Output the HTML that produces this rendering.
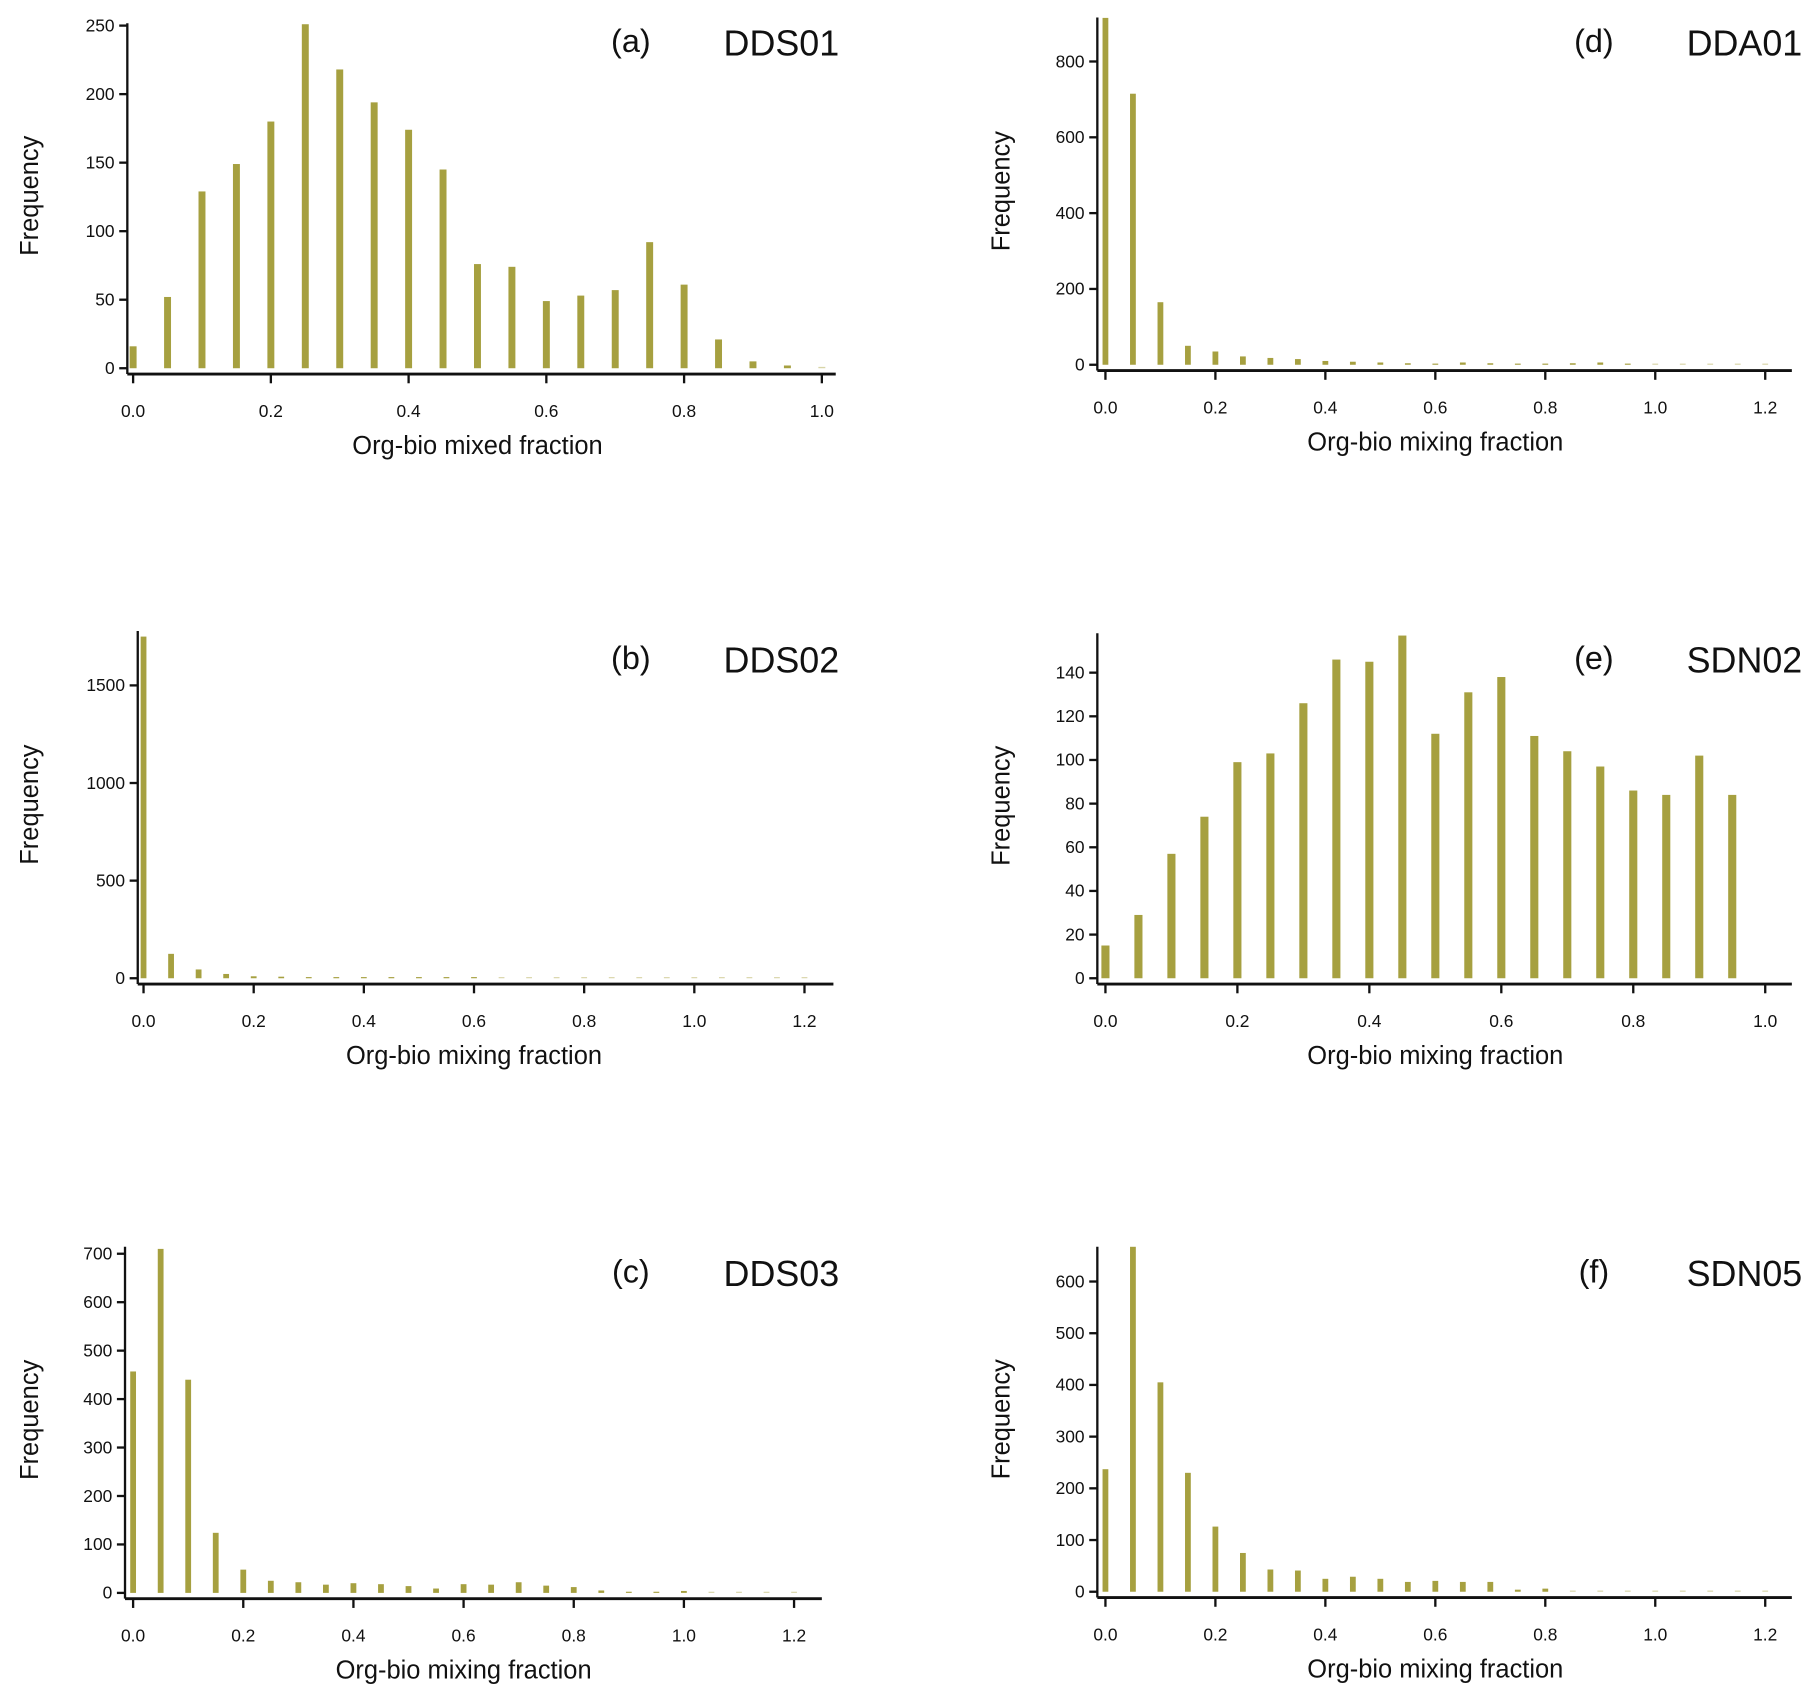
<!DOCTYPE html>
<html><head><meta charset="utf-8"><style>
html,body{margin:0;padding:0;background:#fff}
svg{display:block}
text{font-family:"Liberation Sans",sans-serif;fill:#111}
</style></head><body>
<svg id="fig" width="1815" height="1703" viewBox="0 0 1568 1471" xmlns="http://www.w3.org/2000/svg"></svg>
<script>
const binStep = 0.05;
const dataA = [16,52,129,149,180,251,218,194,174,145,76,74,49,53,57,92,61,21,5,2,1];
const dataB = [1750,125,45,22,10,8,5,4,3,2,3,2,2,1,1,1,1,1,1,1,1,1,1,1,1];
const dataC = [457,710,440,124,48,25,22,17,20,18,14,9,18,17,22,15,12,5,2,2,4,1,1,1,1];
const dataD = [915,715,165,50,35,22,18,15,10,8,6,4,3,6,4,3,3,4,6,2,1,1,1,1,1];
const dataE = [15,29,57,74,99,103,126,146,145,157,112,131,138,111,104,97,86,84,102,84,0];
const dataF = [237,670,405,230,126,75,43,41,25,29,25,19,21,19,19,4,6,1,1,1,1,1,1,1,1];
const yTicksA = [0,50,100,150,200,250];
const yTicksB = [0,500,1000,1500];
const yTicksC = [0,100,200,300,400,500,600,700];
const yTicksD = [0,200,400,600,800];
const yTicksE = [0,20,40,60,80,100,120,140];
const yTicksF = [0,100,200,300,400,500,600];
const xTicks10 = [0,0.2,0.4,0.6,0.8,1.0];
const xTicks12 = [0,0.2,0.4,0.6,0.8,1.0,1.2];

const NS = "http://www.w3.org/2000/svg";
const svg = document.getElementById('fig');
function mk(tag, attrs, parent){
  const e = document.createElementNS(NS, tag);
  for (const k in attrs) e.setAttribute(k, attrs[k]);
  (parent||svg).appendChild(e);
  return e;
}
const panels = [
 {id:'a', name:'DDS01', data:dataA, yt:yTicksA, xt:xTicks10, yax:110, x0:115, xv:1.0, xpx:710, xend:722, y0:318, ytop:20, yv:250, ypx:22, xl:'Org-bio mixed fraction', bw:6, labY:45},
 {id:'b', name:'DDS02', data:dataB, yt:yTicksB, xt:xTicks12, yax:119, x0:124, xv:1.2, xpx:695, xend:720, y0:845, ytop:545, yv:1500, ypx:592, xl:'Org-bio mixing fraction', bw:5, labY:578},
 {id:'c', name:'DDS03', data:dataC, yt:yTicksC, xt:xTicks12, yax:108, x0:115, xv:1.2, xpx:686, xend:710, y0:1376, ytop:1077, yv:700, ypx:1083, xl:'Org-bio mixing fraction', bw:5, labY:1108},
 {id:'d', name:'DDA01', data:dataD, yt:yTicksD, xt:xTicks12, yax:948, x0:955, xv:1.2, xpx:1525, xend:1548, y0:315, ytop:15, yv:800, ypx:53, xl:'Org-bio mixing fraction', bw:5, labY:45},
 {id:'e', name:'SDN02', data:dataE, yt:yTicksE, xt:xTicks10, yax:948, x0:955, xv:1.0, xpx:1525, xend:1548, y0:845, ytop:547, yv:140, ypx:581, xl:'Org-bio mixing fraction', bw:7, labY:578},
 {id:'f', name:'SDN05', data:dataF, yt:yTicksF, xt:xTicks12, yax:948, x0:955, xv:1.2, xpx:1525, xend:1548, y0:1375, ytop:1077, yv:600, ypx:1107, xl:'Org-bio mixing fraction', bw:5, labY:1108}
];
panels.forEach(p=>{
  const g = mk('g',{});
  
  
  const xs = v => p.x0 + (v/p.xv)*(p.xpx-p.x0);
  const ys = v => p.y0 - (v/p.yv)*(p.y0-p.ypx);
  const xaxY = p.y0 + 5;
  p.data.forEach((v,i)=>{
    const cx = xs(i*binStep);
    const top = Math.max(ys(v), p.ytop);
    const h = Math.max(p.y0 - top, v>0?1:0);
    const r = mk('rect',{x:cx-p.bw/2, y:p.y0-h, width:p.bw, height:h, fill: v<=1?'#d8d5a8':'#a6a040'}, g);
    
    
  });
  const ya = mk('line',{x1:p.yax,y1:p.ytop,x2:p.yax,y2:xaxY,stroke:'#111','stroke-width':2},g);
  
  
  p.yt.forEach(t=>{
    const y = ys(t);
    mk('line',{x1:p.yax-7,y1:y,x2:p.yax,y2:y,stroke:'#111','stroke-width':2},g);
    const tx = mk('text',{x:p.yax-11,y:y+5,'font-size':15,'text-anchor':'end'},g);
    tx.textContent = t;
    
    
  });
  const xa = mk('line',{x1:p.yax,y1:xaxY,x2:p.xend,y2:xaxY,stroke:'#111','stroke-width':2.5},g);
  
  
  p.xt.forEach(t=>{
    const x = xs(t);
    mk('line',{x1:x,y1:xaxY,x2:x,y2:xaxY+8,stroke:'#111','stroke-width':2},g);
    const tx = mk('text',{x:x,y:xaxY+37,'font-size':15,'text-anchor':'middle'},g);
    tx.textContent = t.toFixed(1);
    
    
  });
  const xl = mk('text',{x:(p.x0+p.xpx)/2,y:xaxY+69,'font-size':22,'text-anchor':'middle'},g);
  xl.textContent = p.xl;
  
  
  const ylx = p.yax < 500 ? 33 : 872, yly = (p.ytop+p.y0)/2;
  const yl = mk('text',{x:ylx,y:yly,'font-size':22,'text-anchor':'middle',transform:'rotate(-90 '+ylx+' '+yly+')'},g);
  yl.textContent = 'Frequency';
  
  
  const right = p.yax < 500 ? 725 : 1557;
  const pl = mk('text',{x:right-180,y:p.labY,'font-size':28,'text-anchor':'middle'},g);
  pl.textContent = '('+p.id+')';
  
  
  const nm = mk('text',{x:right,y:p.labY+3,'font-size':31,'text-anchor':'end'},g);
  nm.textContent = p.name;
  
  
});
</script>
</body></html>
